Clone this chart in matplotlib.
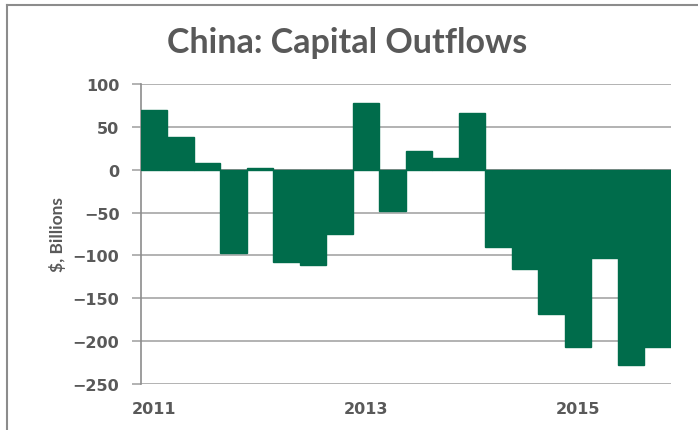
import numpy as np
import matplotlib.pyplot as plt
from matplotlib.lines import Line2D

# Quarterly capital flows, 2011Q1 - 2015Q4 ($ billions)
quarters = ["2011Q1", "2011Q2", "2011Q3", "2011Q4",
            "2012Q1", "2012Q2", "2012Q3", "2012Q4",
            "2013Q1", "2013Q2", "2013Q3", "2013Q4",
            "2014Q1", "2014Q2", "2014Q3", "2014Q4",
            "2015Q1", "2015Q2", "2015Q3", "2015Q4"]
flows = [70, 38, 8, -97, 1.5, -108, -111, -75,
         78, -48, 22, 14, 66, -90, -116, -168,
         -207, -103, -228, -207]
year_labels = ["2011", "2013", "2015"]

green = "#006c4b"
text_grey = "#595959"
grid_grey = "#a6a6a6"

fig = plt.figure(figsize=(6.98, 4.31), dpi=100)
ax = fig.add_axes([0.202, 0.1067, 0.759, 0.6961])

x = np.arange(len(quarters))
ax.bar(x, flows, width=1.0, color=green, edgecolor=green, linewidth=1.0, zorder=3)

ax.set_xlim(-0.5, len(quarters) - 0.5)
ax.set_ylim(-250, 100)
ax.set_yticks(np.arange(-250, 101, 50))

# Year labels under first quarter of every other year
label_pos = [quarters.index(y + "Q1") for y in year_labels]
ax.set_xticks(label_pos)
ax.set_xticklabels(year_labels)

ax.grid(axis="y", color=grid_grey, linewidth=1.2, zorder=1)
ax.axhline(0, color="#8c8c8c", linewidth=1.2, zorder=2)
for s in ["top", "right", "bottom"]:
    ax.spines[s].set_visible(False)
ax.spines["left"].set_color("#8c8c8c")
ax.spines["left"].set_linewidth(1.2)

ax.tick_params(axis="y", length=6.5, width=1.2, color=grid_grey, pad=9,
               labelsize=11.5, labelcolor=text_grey)
ax.tick_params(axis="x", length=0, pad=12, labelsize=11.5, labelcolor=text_grey)
for lab in ax.get_xticklabels() + ax.get_yticklabels():
    lab.set_fontweight("bold")

ax.set_ylabel("$, Billions", fontsize=12.5, color=text_grey, family="Lato",
              fontweight="bold", labelpad=5)

fig.text(0.497, 0.9, "China: Capital Outflows", ha="center", va="center",
         fontsize=24.5, fontweight="bold", color=text_grey, family="Lato")

# Chart frame (top and left edges only)
fig.add_artist(Line2D([6.5 / 698, 6.5 / 698], [0, 1 - 6 / 431],
                      transform=fig.transFigure, color="#8c8c8c", linewidth=1.5))
fig.add_artist(Line2D([6.5 / 698, 1], [1 - 6 / 431, 1 - 6 / 431],
                      transform=fig.transFigure, color="#8c8c8c", linewidth=1.5))

fig.savefig("out.png", dpi=100)
